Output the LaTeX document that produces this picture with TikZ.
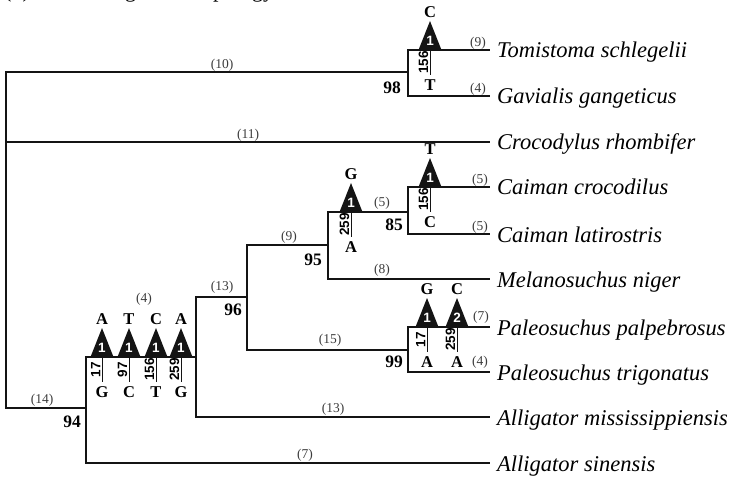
\documentclass[tikz,border=0pt]{standalone}
\usepackage{fontspec}
\setmainfont{Liberation Serif}
\newfontfamily\sitefont{Liberation Sans}
\usepackage{tikz}
\usepackage{xcolor}
\definecolor{ink}{RGB}{20,20,20}
\definecolor{lengrey}{RGB}{60,60,60}

% substitution on a branch: name, x, y, new base, count, site, old base
\newcommand{\mutmark}[7]{%
  \coordinate (#1) at (#2,#3);
  \fill[ink] (#1) ++(-11.5,0) -- ++(11.5,-29) -- ++(11.5,29) -- cycle;
  \node[count] (#1-n) at ([yshift=9.5pt]#1) {#5};
  \node[state] (#1-up) at ([yshift=38pt]#1) {#4};
  \draw[tick] (#1) -- ++(0,25) coordinate (#1-end);
  \node[site] (#1-s) at ([xshift=-1pt,yshift=-12.5pt]#1) {#6};
  \node[state] (#1-dn) at ([yshift=-10pt]#1-end) {#7};
}

\begin{document}
\begin{tikzpicture}[x=1pt, y=-1pt, line join=miter,
    branch/.style={ink, line width=1.5pt},
    tick/.style={ink, line width=0.9pt},
    species/.style={anchor=base west, inner sep=0pt, font=\fontsize{22.5}{24}\selectfont\itshape},
    blen/.style={inner sep=0pt, text=lengrey, font=\fontsize{13.5}{15}\selectfont},
    boot/.style={inner sep=0pt, font=\fontsize{17.5}{19}\selectfont\bfseries},
    state/.style={inner sep=0pt, font=\fontsize{16.5}{18}\selectfont\bfseries},
    count/.style={inner sep=0pt, text=white, font=\sitefont\bfseries\fontsize{13.5}{14}\selectfont},
    site/.style={inner sep=0.5pt, anchor=south, rotate=90, font=\sitefont\bfseries\fontsize{13.5}{15}\selectfont}]
  \useasboundingbox (0,0) rectangle (730,478);

  % panel title, cut at the top edge
  \begin{scope}
    \clip (0,0) rectangle (730,478);
    \node[anchor=base west, inner sep=0pt, font=\fontsize{22}{24}\selectfont] (ttl) at (4,-2)
      {(b)\hspace{25pt}Best single tree topology};
  \end{scope}

  % internal nodes
  \coordinate (root) at (6,240);
  \coordinate (n98) at (408,72);
  \coordinate (n94) at (86,408);
  \coordinate (nA) at (196,357);
  \coordinate (n96) at (247,297);
  \coordinate (n95) at (328,245);
  \coordinate (n85) at (408,212);
  \coordinate (n99) at (408,350);

  % tips
  \foreach \k/\y in {tom/50, gav/96, cro/142, ccr/187, cla/234,
                     mel/279, ppa/327, ptr/372, ami/417, asi/463}{
    \coordinate (\k) at (490,\y);
  }

  % branches
  \draw[branch] (root) |- (n98) (root) |- (cro) (root) |- (n94);
  \draw[branch] (n98) |- (tom) (n98) |- (gav);
  \draw[branch] (n94) |- (nA) (n94) |- (asi);
  \draw[branch] (nA) |- (n96) (nA) |- (ami);
  \draw[branch] (n96) |- (n95) (n96) |- (n99);
  \draw[branch] (n95) |- (n85) (n95) |- (mel);
  \draw[branch] (n85) |- (ccr) (n85) |- (cla);
  \draw[branch] (n99) |- (ppa) (n99) |- (ptr);

  % species
  \foreach \k/\txt in {tom/Tomistoma schlegelii, gav/Gavialis gangeticus,
                       cro/Crocodylus rhombifer, ccr/Caiman crocodilus,
                       cla/Caiman latirostris, mel/Melanosuchus niger,
                       ppa/Paleosuchus palpebrosus, ptr/Paleosuchus trigonatus,
                       ami/Alligator mississippiensis, asi/Alligator sinensis}{
    \node[species] (\k-name) at ([xshift=7pt,yshift=-8pt]\k) {\txt};
  }

  % substitutions
  \mutmark{mtom}{430}{50}{C}{1}{156}{T}
  \mutmark{mccr}{430}{187}{T}{1}{156}{C}
  \mutmark{mcai}{351}{212}{G}{1}{259}{A}
  \mutmark{mpa}{427}{327}{G}{1}{17}{A}
  \mutmark{mpb}{457}{327}{C}{2}{259}{A}
  \foreach \n/\x/\up/\s/\dn in {a/102/A/17/G, b/129/T/97/C,
                                c/156/C/156/T, d/181/A/259/G}{
    \mutmark{mal\n}{\x}{357}{\up}{1}{\s}{\dn}
  }

  % branch lengths
  \node[blen] (l10) at (222,65) {(10)};
  \node[blen] (l11) at (248,135) {(11)};
  \node[blen] (l9a) at (478,43) {(9)};
  \node[blen] (l4a) at (478,89) {(4)};
  \node[blen] (l5a) at (382,203) {(5)};
  \node[blen] (l5b) at (480,180) {(5)};
  \node[blen] (l5c) at (480,227) {(5)};
  \node[blen] (l9b) at (289,237) {(9)};
  \node[blen] (l8) at (382,270) {(8)};
  \node[blen] (l13a) at (222,287) {(13)};
  \node[blen] (l4b) at (144,299) {(4)};
  \node[blen] (l15) at (330,340) {(15)};
  \node[blen] (l7a) at (481,317) {(7)};
  \node[blen] (l4c) at (480,362) {(4)};
  \node[blen] (l14) at (42,400) {(14)};
  \node[blen] (l13b) at (333,409) {(13)};
  \node[blen] (l7b) at (305,455) {(7)};

  % bootstrap support
  \node[boot] (b98) at (392,88) {98};
  \node[boot] (b85) at (394,225) {85};
  \node[boot] (b95) at (313,260) {95};
  \node[boot] (b96) at (233,310) {96};
  \node[boot] (b99) at (394,362) {99};
  \node[boot] (b94) at (72,422) {94};
\end{tikzpicture}
\end{document}
